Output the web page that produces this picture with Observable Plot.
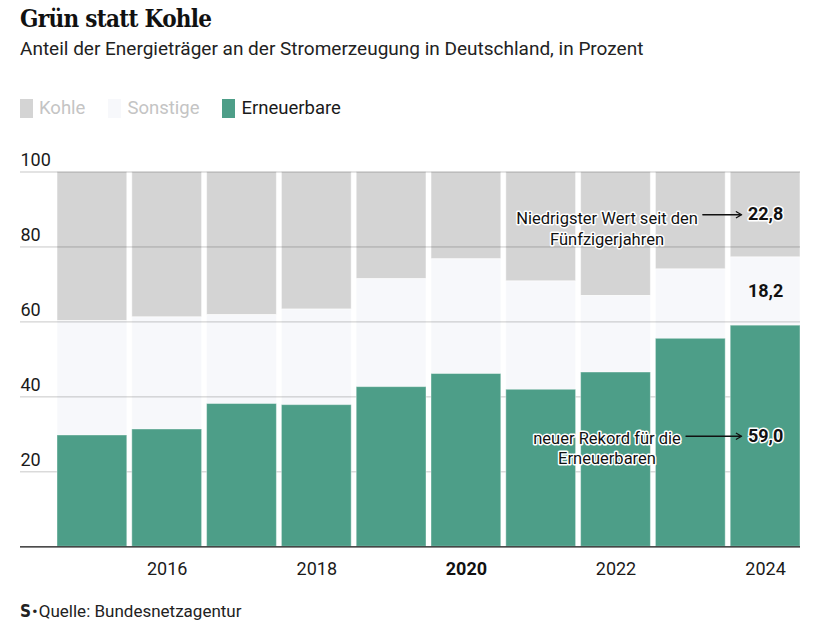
<!DOCTYPE html>
<html>
<head>
<meta charset="utf-8">
<script src="https://cdn.jsdelivr.net/npm/d3@7"></script>
<script src="https://cdn.jsdelivr.net/npm/@observablehq/plot@0.6"></script>
<style>
  body { margin: 0; width: 836px; height: 630px; background: #fff; position: relative; font-family: Roboto, "Liberation Sans", sans-serif; color: #1a1a1a; overflow: hidden; }
  #title { position: absolute; left: 20px; top: 4px; font-family: "DejaVu Serif Condensed", "DejaVu Serif", serif; font-weight: 900; font-stretch: condensed; font-size: 24px; color: #111; letter-spacing: -0.7px; }
  #subtitle { position: absolute; left: 20px; top: 37px; font-size: 19px; color: #222; }
  #legend { position: absolute; left: 20px; top: 97px; display: flex; align-items: center; font-size: 18.5px; }
  .sw { display: inline-block; width: 13px; height: 19px; margin-right: 6px; }
  .item { display: flex; align-items: center; margin-right: 23px; }
  #chart { position: absolute; left: 0; top: 140px; }
  #caption { position: absolute; left: 20px; top: 601px; font-size: 17px; color: #222; display: flex; align-items: center; }
  #caption .logo { font-family: "DejaVu Sans Condensed", "DejaVu Sans", sans-serif; font-weight: 900; font-size: 17px; margin-right: 1px; }
</style>
</head>
<body>
<div id="title">Grün statt Kohle</div>
<div id="subtitle">Anteil der Energieträger an der Stromerzeugung in Deutschland, in Prozent</div>
<div id="legend"></div>
<div id="chart"></div>
<div id="caption"><span class="logo">S</span><span style="margin-right:1px">•</span>Quelle: Bundesnetzagentur</div>
<script>
// Data (percent of electricity generation)
const years       = ["2015","2016","2017","2018","2019","2020","2021","2022","2023","2024"];
const erneuerbare = [29.7, 31.3, 38.1, 37.8, 42.6, 46.1, 41.9, 46.5, 55.5, 59.0];
const sonstige    = [30.5, 29.9, 23.7, 25.5, 28.8, 30.6, 28.9, 20.4, 18.5, 18.2];
const kohle       = [39.8, 38.8, 38.2, 36.7, 28.6, 23.3, 29.2, 33.1, 26.0, 22.8];

const seriesNames  = ["Kohle", "Sonstige", "Erneuerbare"];
const seriesColors = ["#d4d4d4", "#f7f8fb", "#4d9e88"];
const legendText   = ["#c4c4c4", "#c4c4c4", "#1a1a1a"];

const yTicks = [20, 40, 60, 80, 100];
const xTicksNormal = ["2016", "2018", "2022", "2024"];
const xTicksBold = ["2020"];

const noteKohle  = "Niedrigster Wert seit den\nFünfzigerjahren";
const noteErn    = "neuer Rekord für die\nErneuerbaren";

// Legend
const legend = document.getElementById("legend");
seriesNames.forEach((n, i) => {
  const it = document.createElement("div");
  it.className = "item";
  it.innerHTML = `<span class="sw" style="background:${seriesColors[i]}"></span><span style="color:${legendText[i]}">${n}</span>`;
  legend.appendChild(it);
});

const rows = years.map((y, i) => ({
  year: y,
  e: erneuerbare[i],
  s: sonstige[i],
  k: kohle[i]
}));
const last = rows[rows.length - 1];
const fmt = v => v.toFixed(1).replace(".", ",");

const chart = Plot.plot({
  width: 836,
  height: 450,
  marginLeft: 20,
  marginRight: 36,
  marginTop: 31.5,
  marginBottom: 43.7,
  x: { type: "band", domain: years, range: [57, 800], paddingInner: 0.067, paddingOuter: 0, round: false, axis: null, label: null },
  y: { domain: [0, 100], axis: null },
  style: { fontFamily: "Roboto, 'Liberation Sans', sans-serif", color: "#1a1a1a", overflow: "visible" },
  marks: [
    // Kohle (top segment)
    Plot.barY(rows, { x: "year", y1: d => d.e + d.s, y2: d => d.e + d.s + d.k, fill: seriesColors[0], stroke: "white", strokeOpacity: 0.5, strokeWidth: 1 }),
    // Sonstige (middle segment)
    Plot.barY(rows, { x: "year", y1: "e", y2: d => d.e + d.s, fill: seriesColors[1], stroke: "white", strokeOpacity: 0.5, strokeWidth: 1 }),
    // gridlines
    Plot.ruleY(yTicks, { stroke: "#000", strokeOpacity: 0.22, strokeWidth: 1 }),
    // Erneuerbare (bottom segment)
    Plot.barY(rows, { x: "year", y1: 0, y2: "e", fill: seriesColors[2], stroke: "white", strokeOpacity: 0.4, strokeWidth: 1 }),
    // baseline
    Plot.ruleY([0], { stroke: "#111", strokeWidth: 1.3 }),
    // y tick labels
    Plot.text(yTicks, { y: d => d, frameAnchor: "left", textAnchor: "start", dy: -12, fontSize: 18, fill: "#1a1a1a", text: d => String(d) }),
    // x tick labels
    Plot.axisX({ ticks: xTicksNormal, tickSize: 0, tickPadding: 15, fontSize: 18, anchor: "bottom", fill: "#1a1a1a", label: null }),
    Plot.axisX({ ticks: xTicksBold, tickSize: 0, tickPadding: 15, fontSize: 18, anchor: "bottom", fontWeight: "bold", fill: "#111", label: null }),
    // Kohle annotation
    Plot.arrow([last], { x1: () => "2023", x2: "year", y1: d => d.e + d.s + d.k / 2, y2: d => d.e + d.s + d.k / 2, insetStart: 12, insetEnd: 24, stroke: "#111", strokeWidth: 1.3, headLength: 7 }),
    Plot.text([last], { x: () => "2022", y: d => d.e + d.s + d.k / 2, text: () => noteKohle, dx: -9, dy: -6, lineAnchor: "top", lineHeight: 1.3, fontSize: 16.5, fill: "#111", stroke: "white", strokeWidth: 3 }),
    Plot.text([last], { x: "year", y: d => d.e + d.s + d.k / 2, text: d => fmt(d.k), fontSize: 18, fontWeight: "bold", fill: "#111", stroke: "white", strokeWidth: 3 }),
    // Sonstige value
    Plot.text([last], { x: "year", y: d => d.e + d.s / 2, text: d => fmt(d.s), fontSize: 18, fontWeight: "bold", fill: "#111" }),
    // Erneuerbare annotation
    Plot.arrow([last], { x1: () => "2022", x2: "year", y1: d => d.e / 2, y2: d => d.e / 2, insetStart: 70, insetEnd: 24, stroke: "#111", strokeWidth: 1.3, headLength: 7 }),
    Plot.text([last], { x: () => "2022", y: d => d.e / 2, text: () => noteErn, dx: -9, dy: -6, lineAnchor: "top", lineHeight: 1.2, fontSize: 16.5, fill: "#111", stroke: "white", strokeWidth: 3 }),
    Plot.text([last], { x: "year", y: d => d.e / 2, text: d => fmt(d.e), fontSize: 18, fontWeight: "bold", fill: "#111", stroke: "white", strokeWidth: 3 })
  ]
});
document.getElementById("chart").appendChild(chart);
</script>
</body>
</html>
